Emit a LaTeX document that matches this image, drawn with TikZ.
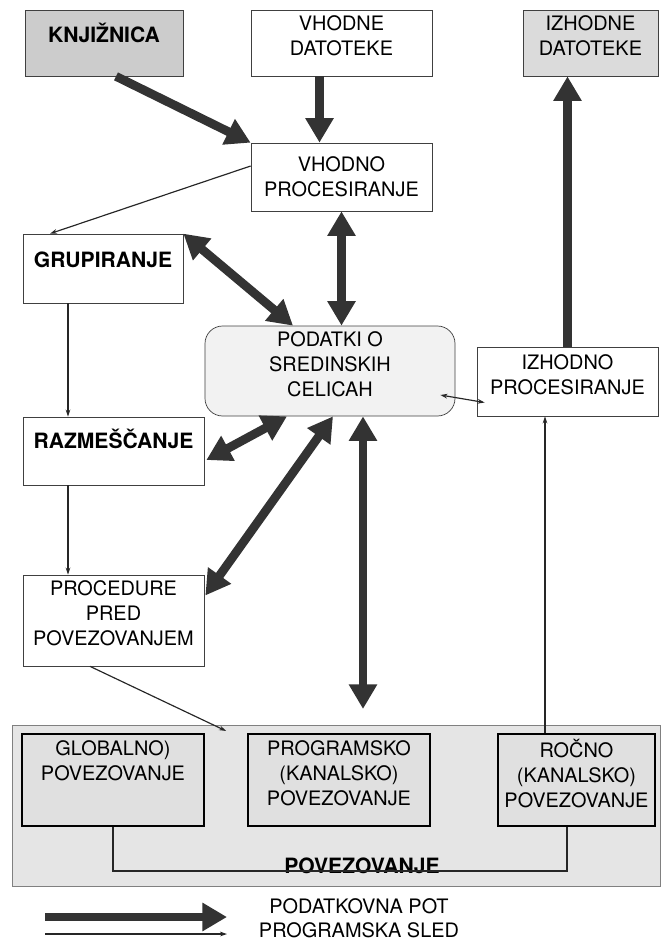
\documentclass[tikz,border=0pt]{standalone}
\usepackage{fontspec}
\setmainfont{TeX Gyre Heros}
\usetikzlibrary{arrows.meta,positioning}
\newcommand{\boxfont}{\fontsize{17}{21.3}\selectfont}
\newcommand{\headfont}{\fontsize{18}{21.3}\selectfont\bfseries}
\newcommand{\liftup}{\rule[-12pt]{0pt}{12pt}}

\begin{document}
\begin{tikzpicture}[x=0.03cm, y=-0.03cm,
    box/.style={rectangle, draw=black!75, line width=0.6pt, inner sep=2pt,
                align=center, font=\boxfont},
    headbox/.style={box, inner sep=0pt, font=\headfont},
    linkbox/.style={box, line width=1.8pt, draw=black, fill=black!12,
                    minimum height=2.76cm},
    datapath/.style={-{Triangle[length=21pt,width=23pt]}, line width=7.5pt, draw=black!80},
    bidata/.style={datapath, {Triangle[length=21pt,width=23pt]}-{Triangle[length=21pt,width=23pt]}},
    flow/.style={-{Stealth[length=6pt,width=4pt]}, line width=1pt, black!85},
    biflow/.style={flow, {Stealth[length=6pt,width=4pt]}-{Stealth[length=6pt,width=4pt]}}
  ]
    \useasboundingbox (0,0) rectangle (667,941);

    % Top row
    \node[headbox, fill=black!20, minimum width=4.74cm, text height=0.96cm, text depth=1.02cm]
      (knj) at (104,43) {KNJIŽNICA};
    \node[box, minimum width=5.43cm, minimum height=1.98cm] (vdat) at (341.5,43) {VHODNE\\DATOTEKE\liftup};
    \node[box, fill=black!14, minimum width=4.05cm, minimum height=1.98cm] (idat) at (590.5,43) {IZHODNE\\DATOTEKE\liftup};

    % Processing boxes
    \node[box, minimum width=5.43cm, minimum height=2.04cm] (vproc) at (341.5,177) {VHODNO\\PROCESIRANJE};
    \node[headbox, minimum width=4.8cm, text height=0.99cm, text depth=1.08cm]
      (grp) at (103,268.5) {GRUPIRANJE};
    \node[box, rounded corners=15pt, fill=black!5, minimum width=7.5cm, minimum height=2.7cm]
      (pod) at (330,371) {PODATKI O\\SREDINSKIH\\CELICAH\liftup};
    \node[box, minimum width=5.43cm, minimum height=2.07cm] (iproc) at (567.5,381.5) {IZHODNO\\PROCESIRANJE\liftup};
    \node[headbox, minimum width=5.43cm, text height=0.93cm, text depth=1.11cm]
      (raz) at (113.5,451) {RAZMEŠČANJE};
    \node[box, minimum width=5.43cm, minimum height=2.73cm] (proc) at (113.5,620.5) {PROCEDURE\\PRED\\POVEZOVANJEM\liftup};

    % Linking block
    \node[rectangle, draw=black!50, fill=black!10, minimum width=19.44cm, minimum height=4.83cm]
      (pov) at (336,805.5) {};
    \node[linkbox, minimum width=5.46cm] (glob) at (113,780) {GLOBALNO)\\POVEZOVANJE\\~\liftup};
    \node[linkbox, minimum width=5.46cm] (prog) at (339,780) {PROGRAMSKO\\(KANALSKO)\\POVEZOVANJE\liftup};
    \node[linkbox, minimum width=4.71cm] (rocno) at (576.5,780) {ROČNO\\(KANALSKO)\\POVEZOVANJE\liftup};
    \node[font=\headfont, anchor=base, inner sep=1pt] (povlbl) at (362,873) {POVEZOVANJE};
    \draw[line width=1pt, black!85] (glob.south) -- ++(0,44) -| ([shift={(-9.5,0)}]rocno.south);

    % Data paths
    \draw[datapath] ([shift={(12,0)}]knj.south) -- (vproc.north west);
    \draw[datapath] ([shift={(-22,0)}]vdat.south) -- ([shift={(-22,0)}]vproc.north);
    \draw[bidata] (vproc.south) -- (vproc.south |- pod.north);
    \draw[bidata] (grp.north east) -- ([shift={(-37,0)}]pod.north);
    \draw[bidata] ([shift={(2,9)}]raz.east) -- ([shift={(-43,0)}]pod.south);
    \draw[bidata] ([shift={(1,-25)}]proc.east) -- ([shift={(3,0)}]pod.south);
    \draw[bidata] ([shift={(33,0)}]pod.south) -- ([shift={(24,-24)}]prog.north);
    \draw[datapath] (iproc.north) -- (iproc.north |- idat.south);

    % Program sequence
    \draw[flow] ([shift={(0,-11)}]vproc.west) -- ([shift={(-53,0)}]grp.north);
    \draw[flow] ([shift={(-35,0)}]grp.south) -- ([shift={(-45.5,0)}]raz.north);
    \draw[flow] ([shift={(-45.5,0)}]raz.south) -- ([shift={(-45.5,0)}]proc.north);
    \draw[flow] ([shift={(-23.5,0)}]proc.south) -- ([shift={(21,-2)}]glob.north east);
    \draw[flow] ([shift={(-31.5,0)}]rocno.north) -- ([shift={(-22.5,0)}]iproc.south);
    \draw[biflow] ([shift={(-15,24)}]pod.east) -- ([shift={(8,21)}]iproc.west);

    % Legend
    \coordinate (dpa) at (45,917);
    \coordinate (dpb) at (227,917);
    \coordinate (psa) at (45,934);
    \coordinate (psb) at (227,934);
    \draw[datapath] (dpa) -- (dpb);
    \draw[flow] (psa) -- (psb);
    \node[font=\boxfont, anchor=base] (dplbl) at (359,913) {PODATKOVNA POT};
    \node[font=\boxfont, anchor=base] (pslbl) at (359,937) {PROGRAMSKA SLED};
  \end{tikzpicture}
\end{document}
